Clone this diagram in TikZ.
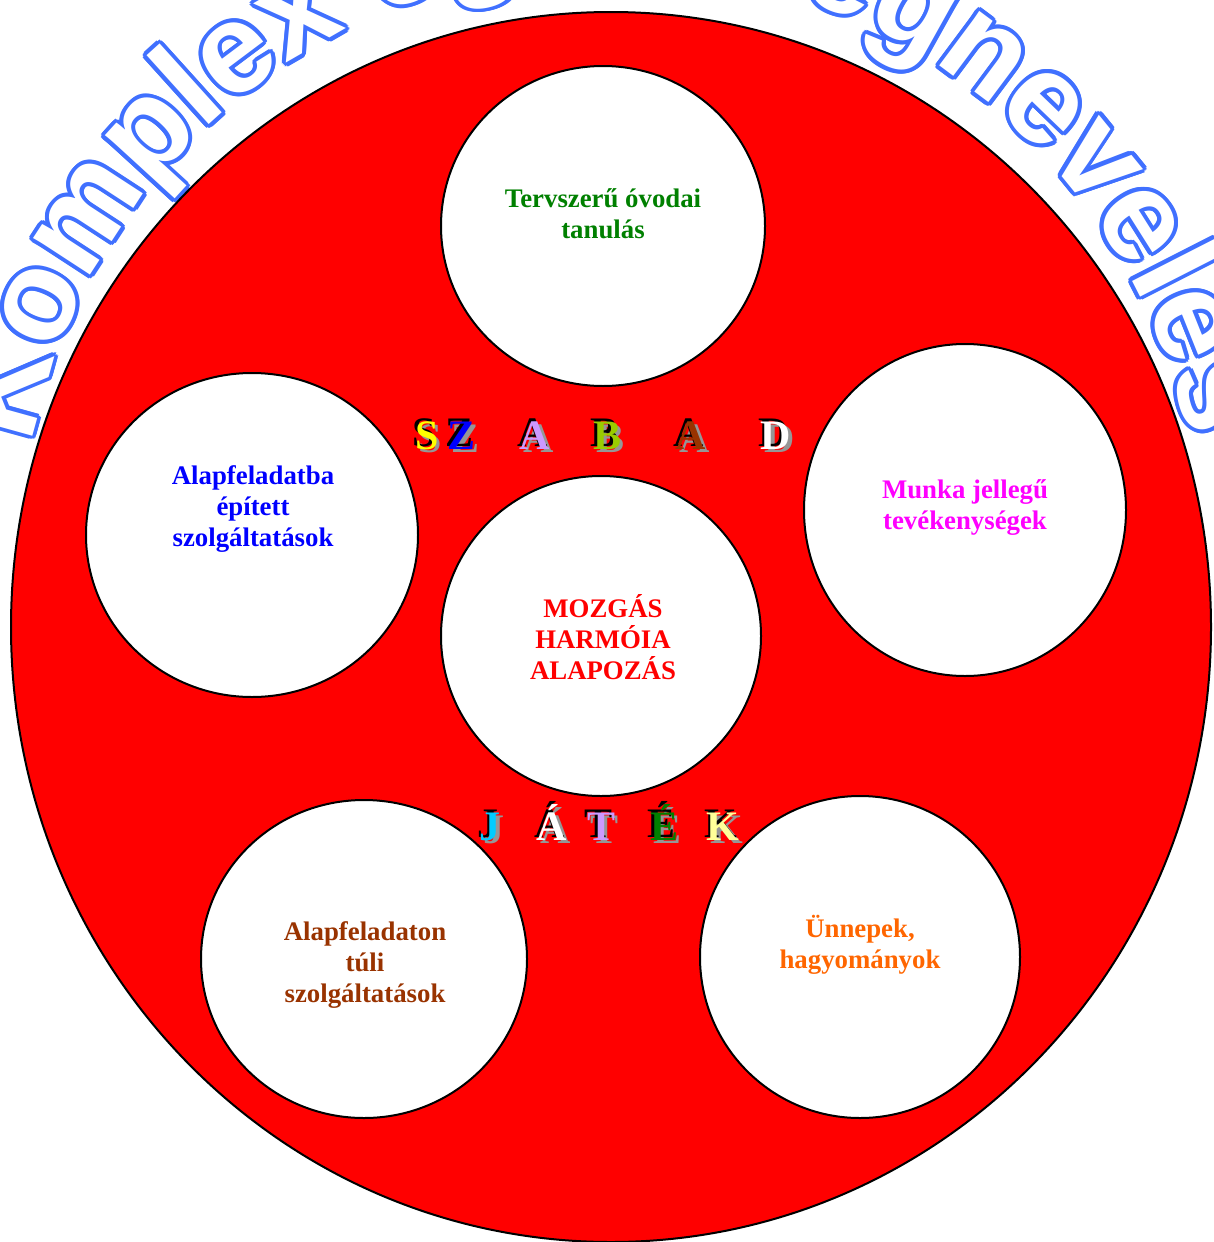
\documentclass[tikz,border=0pt]{standalone}
\usepackage{fontspec}
\setmainfont{Liberation Serif}
\newfontfamily\arcfont{Liberation Sans}
\usetikzlibrary{shapes.geometric}
\definecolor{arcblue}{RGB}{64,112,255}
\definecolor{lblgreen}{RGB}{0,128,0}
\definecolor{lblblue}{RGB}{0,0,255}
\definecolor{lblmagenta}{RGB}{255,0,255}
\definecolor{lblred}{RGB}{255,0,0}
\definecolor{lblbrown}{RGB}{153,51,0}
\definecolor{lblorange}{RGB}{255,102,0}
\definecolor{lyellow}{RGB}{255,255,0}
\definecolor{lavender}{RGB}{204,153,255}
\definecolor{yellowgreen}{RGB}{153,204,0}
\definecolor{skycyan}{RGB}{0,204,255}
\definecolor{paleyellow}{RGB}{255,255,153}
\definecolor{shadowgray}{RGB}{150,150,150}
\tikzset{
  disc/.style={ellipse, draw=black, line width=2pt, fill=white, inner sep=0pt},
  wheel/.style={ellipse, draw=black, line width=2pt, fill=lblred, inner sep=0pt},
  lbl/.style={font=\bfseries\fontsize{26.8}{31}\selectfont, align=center, inner sep=0pt},
  bigletter/.style={font=\bfseries\fontsize{42}{42}\selectfont, inner sep=0pt, anchor=base},
  arcchar/.style={font=\arcfont\bfseries\fontsize{128}{128}\selectfont, inner sep=0pt, anchor=base},
}
\begin{document}
\begin{tikzpicture}[x=1pt,y=-1pt]
\useasboundingbox (0,0) rectangle (1213,1242);
\clip (0,0) rectangle (1213,1242);
% arc title
\def\F{128}\def\R{590}
\foreach \c/\m in {K/0.361, o/1.0275, m/1.7775, p/2.5275, l/2.972, e/3.389, x/3.945,
  e/4.779, g/5.3625, é/5.946, s/6.502, z/7.030, s/7.558, é/8.114, g/8.6975,
  n/9.3085, e/9.892, v/10.448, e/11.004, l/11.421, é/11.838, s/12.394}{
  \pgfmathsetmacro\ang{169 - \m*\F/\R*57.29578}
  \pgfmathsetmacro\px{611+\R*cos(\ang)}
  \pgfmathsetmacro\py{557-\R*sin(\ang)}
  \foreach \k in {0,22.5,...,359}{
    \node[arcchar, text=arcblue, rotate=\ang-90, xshift={4*cos(\k)}, yshift={4*sin(\k)}] at (\px,\py) {\c};
  }
}
\foreach \c/\m [count=\i] in {K/0.361, o/1.0275, m/1.7775, p/2.5275, l/2.972, e/3.389, x/3.945,
  e/4.779, g/5.3625, é/5.946, s/6.502, z/7.030, s/7.558, é/8.114, g/8.6975,
  n/9.3085, e/9.892, v/10.448, e/11.004, l/11.421, é/11.838, s/12.394}{
  \pgfmathsetmacro\ang{169 - \m*\F/\R*57.29578}
  \pgfmathsetmacro\px{611+\R*cos(\ang)}
  \pgfmathsetmacro\py{557-\R*sin(\ang)}
  \node[arcchar, text=white, rotate=\ang-90] (title\i) at (\px,\py) {\c};
}
% wheel
\node[wheel, minimum width=1200pt, minimum height=1230pt] (rim) at (611,627) {};
\node[disc, minimum width=324pt, minimum height=320pt] (ctop) at (603,226) {};
\node[disc, minimum width=332pt, minimum height=324pt] (cleft) at (252,535) {};
\node[disc, minimum width=322pt, minimum height=332pt] (cright) at (965,510) {};
\node[disc, minimum width=320pt, minimum height=320pt] (ccenter) at (601,636) {};
\node[disc, minimum width=326pt, minimum height=318pt] (cbl) at (364,959) {};
\node[disc, minimum width=320pt, minimum height=322pt] (cbr) at (860,957) {};
% labels
\node[lbl, text=lblgreen] (t1) at (603,214) {Tervszerű óvodai\\tanulás};
\node[lbl, text=lblblue] (t2) at (253,509) {Alapfeladatba\\épített\\szolgáltatások};
\node[lbl, text=lblmagenta] (t3) at (965,508) {Munka jellegű\\tevékenységek};
\node[lbl, text=lblred] (t4) at (603,637) {MOZGÁS\\HARMÓIA\\ALAPOZÁS};
\node[lbl, text=lblbrown] (t5) at (365,965) {Alapfeladaton\\túli\\szolgáltatások};
\node[lbl, text=lblorange] (t6) at (860,945) {Ünnepek,\\hagyományok};
% shadowed letters
\foreach \c/\x/\col [count=\i] in {S/427/lyellow, Z/462/lblblue, A/535/lavender, B/607/yellowgreen, A/691/lblbrown, D/776/white}{
  \node[bigletter, text=shadowgray] at (\x+3.5,449+3.5) {\c};
  \node[bigletter, text=black] at (\x-2.5,449-2.5) {\c};
  \node[bigletter, text=\col] (sz\i) at (\x,449) {\c};
}
\foreach \c/\x/\col [count=\i] in {J/490/skycyan, Á/552/white, T/601/lavender, É/664/lblgreen, K/723/paleyellow}{
  \node[bigletter, text=shadowgray] at (\x+3.5,840+3.5) {\c};
  \node[bigletter, text=black] at (\x-2.5,840-2.5) {\c};
  \node[bigletter, text=\col] (jt\i) at (\x,840) {\c};
}
\end{tikzpicture}
\end{document}
